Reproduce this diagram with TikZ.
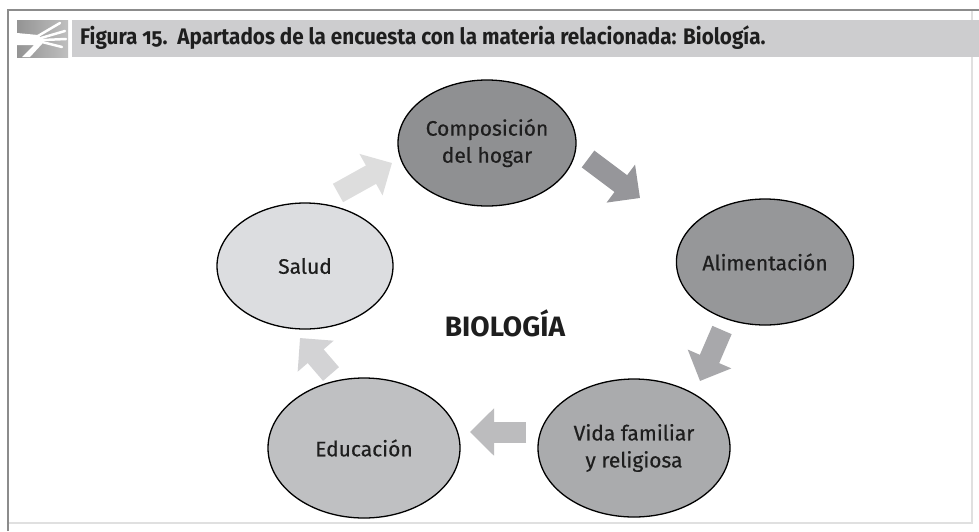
\documentclass[tikz,border=0pt]{standalone}
\usepackage{fontspec}
\setmainfont{Fira Sans}
\newfontfamily\titlefont[FakeStretch=0.92,Numbers=OldStyle]{Fira Sans}
\newfontfamily\nodefont[FakeBold=0.45]{Fira Sans}
\usetikzlibrary{arrows.meta,shapes.geometric}
\definecolor{cComp}{HTML}{8F9092}
\definecolor{cAlim}{HTML}{969799}
\definecolor{cVida}{HTML}{AAABAD}
\definecolor{cEdu}{HTML}{BFC0C2}
\definecolor{cSal}{HTML}{DCDDE0}
\definecolor{aOne}{HTML}{DDDDDD}
\definecolor{aTwo}{HTML}{96969A}
\definecolor{aThree}{HTML}{A8A8AB}
\definecolor{aFour}{HTML}{BCBCBE}
\definecolor{aFive}{HTML}{D3D3D5}
\definecolor{band}{HTML}{CDCDCF}
\definecolor{txt}{HTML}{1E1E1E}
\begin{document}
\begin{tikzpicture}[x=1pt,y=-1pt,
  bubble/.style={ellipse, draw=black, line width=1.3pt, inner sep=0pt,
    align=center, text=txt, font=\nodefont\fontsize{21}{27}\selectfont},
  blk/.style={line width=21pt, -{Triangle[length=24pt,width=46pt]}}]
\useasboundingbox (0,0) rectangle (979,531);
\fill[white] (0,0) rectangle (979,531);
% frame
\draw[black!12, line width=1.5pt] (972,10) -- (972,523) -- (8,523);
\draw[black!45, line width=2.5pt] (8,531) -- (8,10) -- (979,10);
% title band
\fill[band] (72,20) rectangle (979,57);
\shade[left color=black!42, right color=black!25] (17,20) rectangle (68,57);
\fill[white] (17,33) -- (38,35) -- (44,40) -- (42,44) -- (30,57) -- (22,57) -- (34,45) -- (17,45) -- cycle;
\draw[white, line width=2.5pt, line cap=round] (38,36) -- (60,23);
\draw[white, line width=2.5pt, line cap=round] (41,38) -- (65,31);
\draw[white, line width=2.5pt, line cap=round] (43,40) -- (66,39);
\draw[white, line width=2.5pt, line cap=round] (42,42) -- (62,47);
\node[anchor=west, text=txt, inner sep=0pt, font=\titlefont\bfseries\fontsize{22.5}{26}\selectfont]
  (title) at (80,38) {Figura 15.\ \ Apartados de la encuesta con la materia relacionada: Biología.};
% ellipses
\node[bubble, fill=cComp, minimum width=178pt, minimum height=126pt] (comp) at (487,143) {Composición\\del hogar};
\node[bubble, fill=cAlim, minimum width=152pt, minimum height=126pt] (alim) at (765,262) {Alimentación};
\node[bubble, fill=cVida, minimum width=192pt, minimum height=138pt] (vida) at (634,448) {Vida familiar\\y religiosa};
\node[bubble, fill=cEdu, minimum width=192pt, minimum height=140pt] (edu) at (364,448) {Educación};
\node[bubble, fill=cSal, minimum width=176pt, minimum height=126pt] (sal) at (305,266) {Salud};
\node[text=txt, font=\bfseries\fontsize{28}{31}\selectfont] (bio) at (505,323) {BIOLOGÍA};
% arrows
\coordinate (a1s) at (338,193); \coordinate (a1e) at (392,163);
\coordinate (a2s) at (588,159); \coordinate (a2e) at (640,198);
\coordinate (a3s) at (722,330); \coordinate (a3e) at (700,381);
\coordinate (a4s) at (526,432); \coordinate (a4e) at (470,432);
\coordinate (a5s) at (331,374); \coordinate (a5e) at (300,338);
\draw[blk, aOne] (a1s) -- (a1e);
\draw[blk, aTwo] (a2s) -- (a2e);
\draw[blk, aThree] (a3s) -- (a3e);
\draw[blk, aFour] (a4s) -- (a4e);
\draw[blk, aFive] (a5s) -- (a5e);
\end{tikzpicture}
\end{document}
